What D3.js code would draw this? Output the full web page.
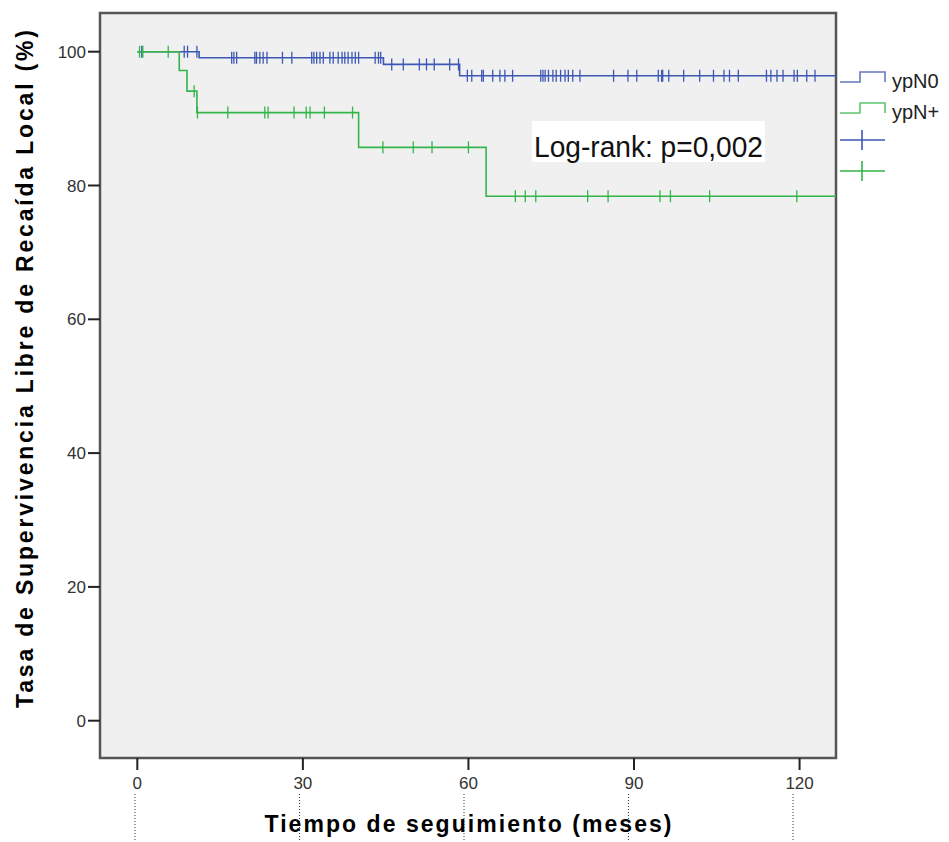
<!DOCTYPE html>
<html>
<head>
<meta charset="utf-8">
<script src="https://cdn.jsdelivr.net/npm/d3@7"></script>
<style>
  body { margin: 0; background: #fff; }
  svg { display: block; font-family: "Liberation Sans", Arial, sans-serif; }
</style>
</head>
<body>
<div id="chart"></div>
<script>
// Kaplan-Meier steps: [month, survival %]
const stepsN0 = [[0, 100], [11.2, 99.1], [44.6, 98.1], [58.4, 96.4]];
const stepsNplus = [[0, 100], [7.6, 97.2], [9.0, 94.1], [10.8, 90.9], [40.1, 85.7], [63.2, 78.4]];

// censored cases (months)
const censN0 = [0.8, 8.5, 9.1, 10.8, 17.1, 17.5, 18.0, 21.3, 21.6, 22.2, 22.8, 23.5, 26.3, 28.0,
  31.6, 32.0, 32.5, 33.1, 33.7, 34.9, 35.5, 36.4, 37.1, 37.6, 38.2, 38.9, 39.5, 40.1,
  43.1, 43.7, 44.1, 46.1, 48.2, 51.1, 52.4, 53.8, 56.6, 58.2,
  59.8, 60.6, 62.4, 62.7, 64.4, 65.7, 66.6, 68.0, 73.1, 73.5, 73.9, 74.5, 75.3, 75.9,
  76.7, 77.5, 78.1, 78.9, 80.2, 86.3, 88.9, 90.5, 94.4, 95.0, 95.2, 96.3, 99.0, 101.9,
  104.4, 106.3, 107.3, 108.9, 114.0, 114.8, 115.9, 117.0, 119.0, 119.6, 121.3, 122.8];
const censNplus = [0.4, 1.0, 5.6, 10.3, 10.9, 16.4, 23.1, 23.7, 28.4, 30.6, 31.3, 33.9, 39.0,
  44.5, 50.0, 53.4, 60.0, 68.5, 70.3, 72.2, 81.6, 85.3, 94.7, 96.6, 103.7, 119.5];

const xTicks = [0, 30, 60, 90, 120];
const yTicks = [0, 20, 40, 60, 80, 100];
const groups = ["ypN0", "ypN+"];
const colors = { "ypN0": "#3d58b2", "ypN+": "#33b54a" };

const width = 949, height = 842;
const frame = { left: 100, top: 13, right: 836, bottom: 758 };

const x = d3.scaleLinear().domain([-6.76, 126.6]).range([frame.left, frame.right]);
const y = d3.scaleLinear().domain([0, 100]).range([720.7, 51.7]);
// the dotted guides under the tick labels sit on a slightly narrower scale
const xDot = d3.scaleLinear().domain([0, 120]).range([135, 793]);

const svg = d3.select("#chart").append("svg")
  .attr("width", width)
  .attr("height", height);

svg.append("rect")
  .attr("x", frame.left).attr("y", frame.top)
  .attr("width", frame.right - frame.left).attr("height", frame.bottom - frame.top)
  .attr("fill", "#f0f0f0")
  .attr("stroke", "#555").attr("stroke-width", 2.5);

// y axis ticks + labels
const yAxis = svg.append("g");
yAxis.selectAll("line").data(yTicks).join("line")
  .attr("x1", 88).attr("x2", frame.left)
  .attr("y1", d => y(d)).attr("y2", d => y(d))
  .attr("stroke", "#222").attr("stroke-width", 2);
yAxis.selectAll("text").data(yTicks).join("text")
  .attr("x", 86).attr("y", d => y(d)).attr("dy", "0.36em")
  .attr("text-anchor", "end")
  .attr("font-size", 17).attr("fill", "#333")
  .text(d => d);

// x axis ticks + labels
const xAxis = svg.append("g");
xAxis.selectAll("line").data(xTicks).join("line")
  .attr("x1", d => x(d)).attr("x2", d => x(d))
  .attr("y1", frame.bottom).attr("y2", 770)
  .attr("stroke", "#222").attr("stroke-width", 2);
xAxis.selectAll("text").data(xTicks).join("text")
  .attr("x", d => x(d)).attr("y", 789)
  .attr("text-anchor", "middle")
  .attr("font-size", 17).attr("fill", "#333")
  .text(d => d);
xAxis.selectAll("line.dot").data(xTicks).join("line")
  .attr("class", "dot")
  .attr("x1", d => xDot(d)).attr("x2", d => xDot(d))
  .attr("y1", 794).attr("y2", height)
  .attr("stroke", "#333").attr("stroke-width", 1)
  .attr("stroke-dasharray", "1,2");

// titles
svg.append("text")
  .attr("x", 468).attr("y", 832)
  .attr("text-anchor", "middle")
  .attr("font-size", 23).attr("font-weight", "bold")
  .attr("textLength", 407).attr("lengthAdjust", "spacing")
  .text("Tiempo de seguimiento (meses)");
svg.append("text")
  .attr("transform", "translate(33,369) rotate(-90)")
  .attr("text-anchor", "middle")
  .attr("font-size", 23).attr("font-weight", "bold")
  .attr("textLength", 678).attr("lengthAdjust", "spacing")
  .text("Tasa de Supervivencia Libre de Recaída Local (%)");

// survival curves
const survAt = (steps, t) => {
  let v = steps[0][1];
  for (const [m, s] of steps) if (m <= t) v = s;
  return v;
};
const curvePath = steps => {
  const pts = steps.map(d => [x(d[0]), y(d[1])]);
  pts.push([x(126.6), y(steps[steps.length - 1][1])]);
  return d3.line().curve(d3.curveStepAfter)(pts);
};

const series = [
  { name: "ypN0", steps: stepsN0, cens: censN0 },
  { name: "ypN+", steps: stepsNplus, cens: censNplus }
];

series.forEach(s => {
  const g = svg.append("g").attr("stroke", colors[s.name]).attr("fill", "none");
  g.append("path").attr("d", curvePath(s.steps)).attr("stroke-width", 1.6);
  g.selectAll("line").data(s.cens).join("line")
    .attr("x1", d => x(d)).attr("x2", d => x(d))
    .attr("y1", d => y(survAt(s.steps, d)) - 6)
    .attr("y2", d => y(survAt(s.steps, d)) + 6)
    .attr("stroke-width", 1.3);
});

// log-rank label
svg.append("rect")
  .attr("x", 532).attr("y", 121).attr("width", 233).attr("height", 41)
  .attr("fill", "#fff");
svg.append("text")
  .attr("x", 534).attr("y", 157)
  .attr("font-size", 29)
  .attr("textLength", 229).attr("lengthAdjust", "spacingAndGlyphs")
  .attr("fill", "#111")
  .text("Log-rank: p=0,002");

// legend
const legend = svg.append("g").attr("fill", "none");
groups.forEach((name, i) => {
  const yb = 82 + i * 31, yt = 72 + i * 31;
  legend.append("path")
    .attr("d", `M840,${yb}H860V${yt}H885V${yb}`)
    .attr("stroke", colors[name]).attr("stroke-width", 1.6).attr("opacity", 0.8);
  svg.append("text")
    .attr("x", 892).attr("y", yb + 6)
    .attr("font-size", 20).attr("fill", "#222")
    .text(name);
  const yc = 140 + i * 31;
  legend.append("path")
    .attr("d", `M840,${yc}H885M862,${yc - 10}V${yc + 10}`)
    .attr("stroke", colors[name]).attr("stroke-width", 1.6);
});
</script>
</body>
</html>
